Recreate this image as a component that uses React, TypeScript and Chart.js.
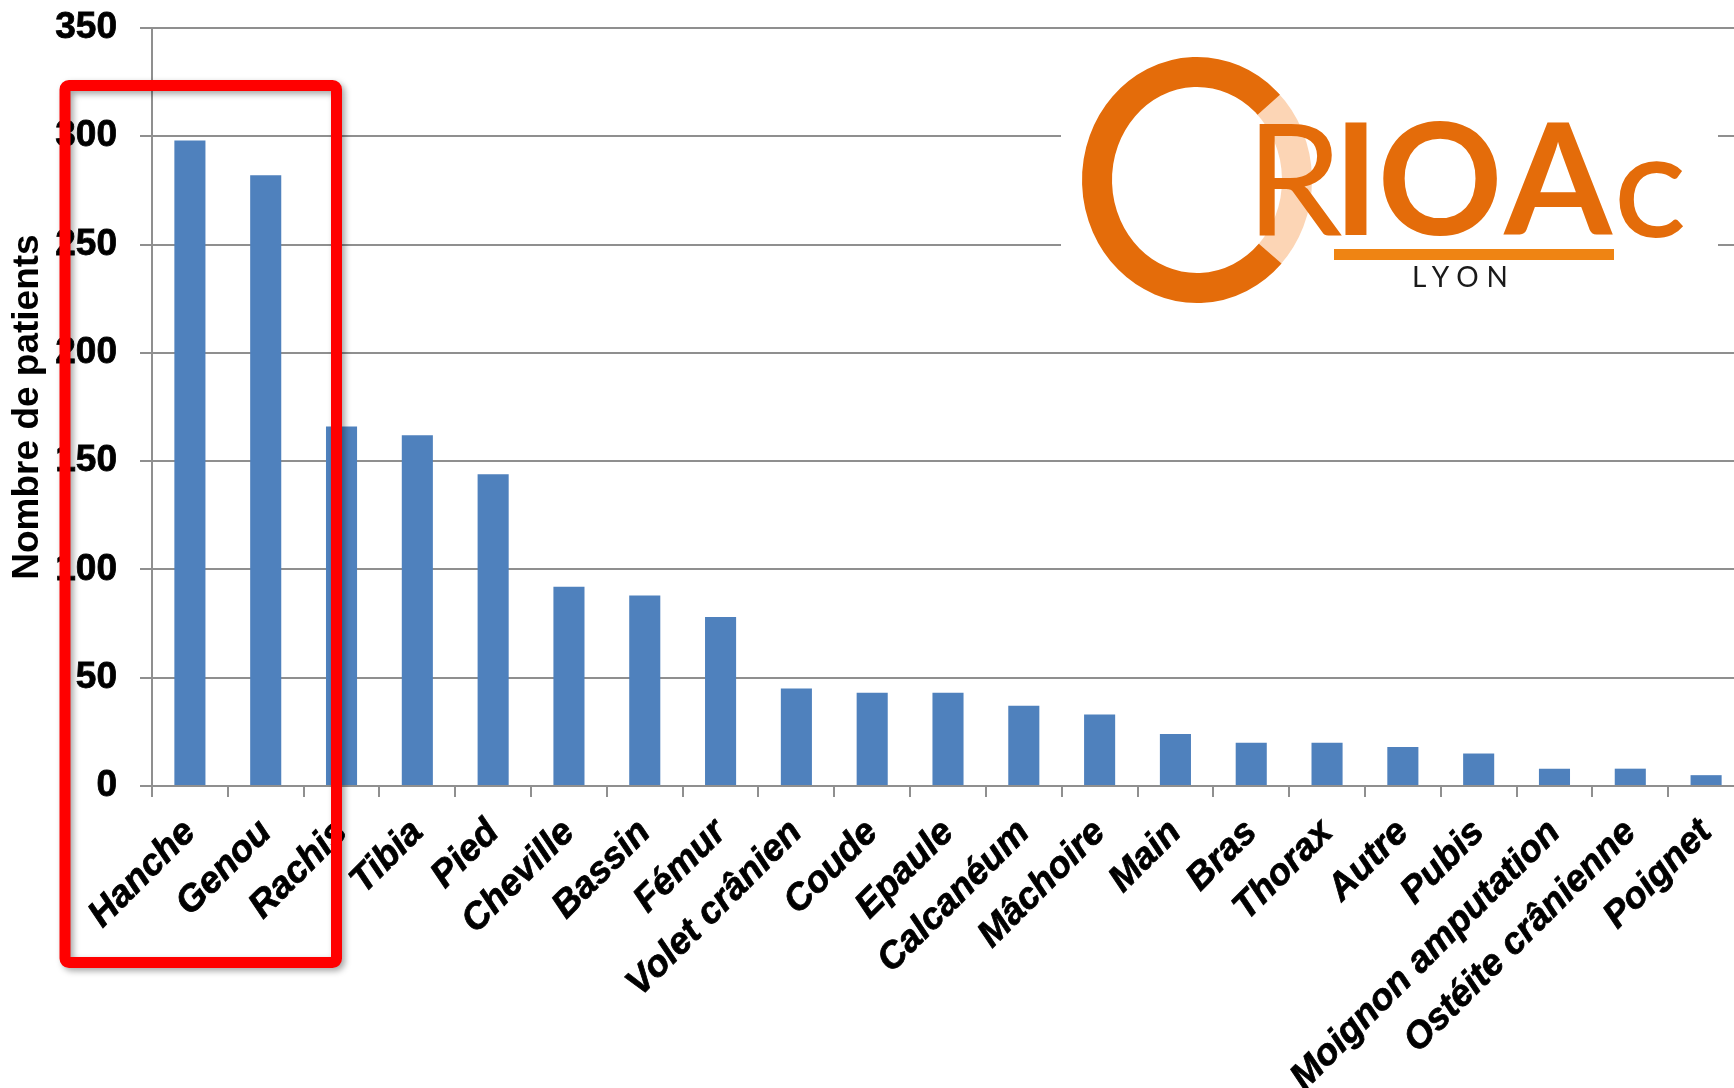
import React, { useEffect, useRef } from 'react';
import { Chart, registerables } from 'chart.js';
Chart.register(...registerables);

const categories = ['Hanche', 'Genou', 'Rachis', 'Tibia', 'Pied', 'Cheville', 'Bassin', 'Fémur', 'Volet crânien', 'Coude', 'Epaule', 'Calcanéum', 'Mâchoire', 'Main', 'Bras', 'Thorax', 'Autre', 'Pubis', 'Moignon amputation', 'Ostéite crânienne', 'Poignet'];
const patients = [298, 282, 166, 162, 144, 92, 88, 78, 45, 43, 43, 37, 33, 24, 20, 20, 18, 15, 8, 8, 5];
const yMin = 0;
const yMax = 350;
const yStep = 50;
const yTitle = 'Nombre de patients';
const logoLetters = ['R', 'I', 'O', 'A'];
const logoSmall = 'C';
const logoCity = 'LYON';

const FAMILY = '"Liberation Sans", Arial, sans-serif';
const GRID = '#8f8f8f';
const ORANGE = '#e46c0a';

const overlayPlugin = {
  id: 'overlay',
  afterDraw(chart: any) {
    const ctx = chart.ctx as CanvasRenderingContext2D;
    // logo
    ctx.save();
    ctx.fillStyle = '#ffffff';
    ctx.fillRect(1061, 42, 657, 276);
    const cx = 1197, cy = 180, rx = 100, ry = 108;
    ctx.lineWidth = 30;
    ctx.strokeStyle = '#fcd5b5';
    ctx.beginPath();
    ctx.ellipse(cx, cy, rx, ry, 0, -0.8, 0.8);
    ctx.stroke();
    ctx.strokeStyle = ORANGE;
    ctx.beginPath();
    ctx.ellipse(cx, cy, rx, ry, 0, 0.75, 2 * Math.PI - 0.77);
    ctx.stroke();

    ctx.fillStyle = ORANGE;
    ctx.textAlign = 'center';
    ctx.textBaseline = 'alphabetic';
    ctx.font = '155px Lato';
    ctx.fillText(logoLetters[0], 1294, 235);
    ctx.font = 'bold 155px Lato';
    const centers = [1294, 1356, 1440, 1558];
    logoLetters.forEach((l, i) => { if (i > 0) ctx.fillText(l, centers[i], 235); });
    ctx.font = 'bold 104px Lato';
    ctx.fillText(logoSmall, 1650, 237);
    ctx.fillStyle = '#ef8413';
    ctx.fillRect(1334, 249, 280, 11);
    ctx.fillStyle = '#1a1a1a';
    ctx.textAlign = 'left';
    ctx.font = '28px Lato';
    (ctx as any).letterSpacing = '8px';
    ctx.fillText(logoCity, 1412, 287);
    (ctx as any).letterSpacing = '0px';
    ctx.restore();

    // red highlight frame
    ctx.save();
    ctx.shadowColor = 'rgba(0,0,0,0.35)';
    ctx.shadowBlur = 6;
    ctx.shadowOffsetX = 3;
    ctx.shadowOffsetY = 3;
    ctx.strokeStyle = '#ff0000';
    ctx.lineWidth = 11;
    ctx.lineJoin = 'round';
    ctx.beginPath();
    (ctx as any).roundRect(65, 85.5, 271.5, 877, 4);
    ctx.stroke();
    ctx.restore();
  },
};

export default function App() {
  const ref = useRef<HTMLCanvasElement>(null);
  useEffect(() => {
    if (!ref.current) return;
    const chart = new Chart(ref.current, {
      type: 'bar',
      data: {
        labels: categories,
        datasets: [{
          data: patients,
          backgroundColor: '#4f81bd',
          borderWidth: 0,
          categoryPercentage: 1,
          barPercentage: 0.41,
        }],
      },
      options: {
        responsive: false,
        animation: false,
        layout: { padding: { top: 28, right: 16, left: 0, bottom: 0 } },
        plugins: { legend: { display: false }, tooltip: { enabled: false } },
        scales: {
          x: {
            grid: { drawOnChartArea: false, drawTicks: true, tickLength: 11, color: GRID, lineWidth: 2, offset: true },
            border: { color: GRID, width: 2 },
            ticks: {
              autoSkip: false, maxRotation: 45, minRotation: 45, color: '#000', padding: 14,
              textStrokeColor: '#000', textStrokeWidth: 0.8,
              font: { family: FAMILY, size: 37, weight: 'bold', style: 'italic' },
            },
            afterFit: (s: any) => { s.height = 302; s.paddingLeft = 0; s.paddingRight = 0; },
          },
          y: {
            min: yMin, max: yMax,
            ticks: { stepSize: yStep, color: '#000', padding: 23, textStrokeColor: '#000', textStrokeWidth: 0.8, font: { family: FAMILY, size: 37, weight: 'bold' } },
            grid: { color: GRID, lineWidth: 2, tickLength: 12 },
            border: { color: GRID, width: 2 },
            title: { display: true, text: yTitle, color: '#000', padding: { top: 6, bottom: 0 }, font: { family: FAMILY, size: 37, weight: 'bold' } },
            afterFit: (s: any) => { s.width = 152; s.paddingTop = 0; s.paddingBottom = 0; },
          },
        },
      } as any,
      plugins: [overlayPlugin],
    });
    return () => chart.destroy();
  }, []);
  return (
    <div style={{ position: 'fixed', left: 0, top: 0, width: 1734, height: 1088, overflow: 'hidden', background: '#fff' }}>
      <canvas ref={ref} width={1760} height={1088} style={{ display: 'block' }} />
    </div>
  );
}
